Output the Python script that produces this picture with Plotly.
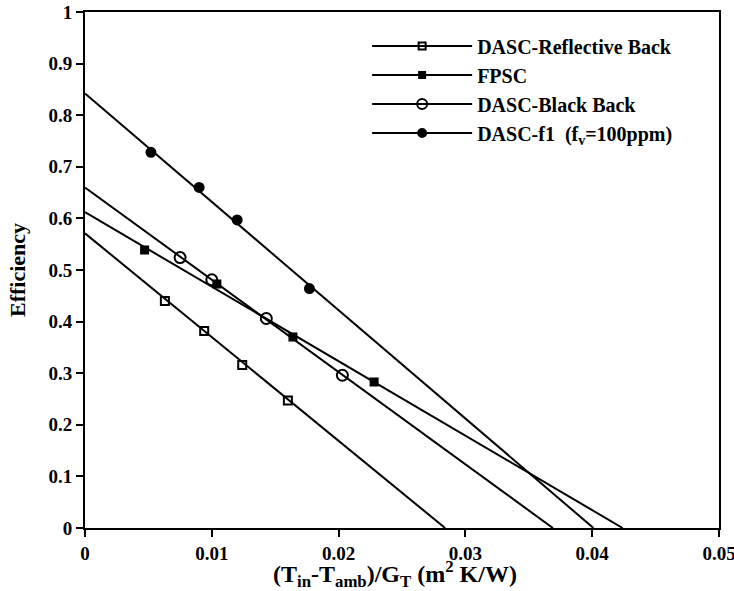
import plotly.graph_objects as go

names = ["DASC-Reflective Back", "FPSC", "DASC-Black Back", "DASC-f1  (f<sub>v</sub>=100ppm)"]
symbols = ["square-open", "square", "circle-open", "circle"]
msizes = [8, 7, 11, 9]

# regression lines: intercept at x=0 and zero crossing
line_x = [[0, 0.0284], [0, 0.0424], [0, 0.0369], [0, 0.0401]]
line_y = [[0.571, 0], [0.612, 0], [0.660, 0], [0.842, 0]]

# measured points
pts_x = [
    [0.0063, 0.0094, 0.0124, 0.0160],
    [0.0047, 0.0104, 0.0164, 0.0228],
    [0.0075, 0.0100, 0.0143, 0.0203],
    [0.0052, 0.0090, 0.0120, 0.0177],
]
pts_y = [
    [0.440, 0.382, 0.316, 0.247],
    [0.539, 0.473, 0.370, 0.283],
    [0.524, 0.481, 0.406, 0.296],
    [0.728, 0.660, 0.597, 0.464],
]

x_ticks = [0, 0.01, 0.02, 0.03, 0.04, 0.05]
x_labels = ["0", "0.01", "0.02", "0.03", "0.04", "0.05"]
y_ticks = [0, 0.1, 0.2, 0.3, 0.4, 0.5, 0.6, 0.7, 0.8, 0.9, 1]
y_labels = ["0", "0.1", "0.2", "0.3", "0.4", "0.5", "0.6", "0.7", "0.8", "0.9", "1"]

x_title = "(T<sub>in</sub>-T<sub>amb</sub>)/G<sub>T</sub> (m<sup>2</sup> K/W)"
y_title = "Efficiency"

fig = go.Figure()
for i in range(4):
    fig.add_trace(go.Scatter(x=line_x[i], y=line_y[i], mode="lines",
                             line=dict(color="black", width=2), showlegend=False,
                             hoverinfo="skip"))
    fig.add_trace(go.Scatter(x=pts_x[i], y=pts_y[i], mode="markers",
                             marker=dict(symbol=symbols[i], size=msizes[i], color="black",
                                         line=dict(color="black", width=2)),
                             showlegend=False))
for i in range(4):
    fig.add_trace(go.Scatter(x=[None], y=[None], mode="lines+markers", name=names[i],
                             line=dict(color="black", width=2),
                             marker=dict(symbol=symbols[i], size=msizes[i] - 1, color="black",
                                         line=dict(color="black", width=2))))

font_b = dict(family="Liberation Serif", color="black", weight=700)

fig.update_layout(
    width=734, height=591,
    margin=dict(l=85, r=15, t=12, b=63),
    paper_bgcolor="white", plot_bgcolor="white",
    showlegend=True,
    legend=dict(x=0.445, y=0.972, xanchor="left", yanchor="top",
                font=dict(size=20, **font_b), itemwidth=100,
                bgcolor="rgba(0,0,0,0)", tracegroupgap=0),
    xaxis=dict(range=[0, 0.05], tickvals=x_ticks, ticktext=x_labels,
               ticks="outside", ticklen=7, tickwidth=2, tickcolor="black",
               showline=True, linewidth=2, linecolor="black", mirror=True,
               showgrid=False, zeroline=False, ticklabeloverflow="allow",
               automargin=False,
               tickfont=dict(size=19, **font_b)),
    yaxis=dict(range=[0, 1], tickvals=y_ticks, ticktext=y_labels,
               ticks="outside", ticklen=7, tickwidth=2, tickcolor="black",
               showline=True, linewidth=2, linecolor="black", mirror=True,
               showgrid=False, zeroline=False, ticklabeloverflow="allow",
               automargin=False,
               tickfont=dict(size=19, **font_b),
               title=dict(text=y_title, font=dict(size=22, **font_b), standoff=17)),
    annotations=[dict(text=x_title, xref="paper", yref="paper", x=0.489, y=0,
                      xanchor="center", yanchor="middle", yshift=-46, showarrow=False,
                      font=dict(size=24, **font_b))],
)

fig.write_html("out.html", config={"displayModeBar": False},
               post_script="document.body.style.margin='0px';")
